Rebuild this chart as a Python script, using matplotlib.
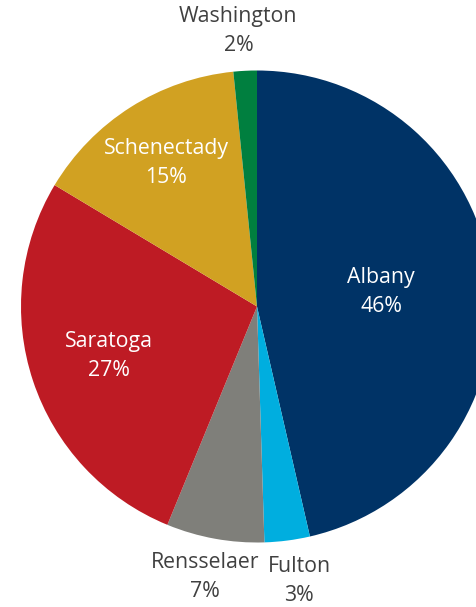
import numpy as np
import matplotlib
matplotlib.use("Agg")
import matplotlib.pyplot as plt

plt.rcParams['font.family'] = ['Open Sans', 'DejaVu Sans']

counties = ["Albany", "Fulton", "Rensselaer", "Saratoga", "Schenectady", "Washington"]
shares = [46.4, 3.1, 6.7, 27.4, 14.8, 1.6]
colors = ["#003366", "#00AEDF", "#7F7F7A", "#BE1B24", "#D1A122", "#007F3F"]
label_radius = [0.53, 1.175, 1.165, 0.66, 0.72, 1.17]
label_shift = [0.0, 1.4, -0.6, 0.0, 0.0, 1.0]  # degrees
label_color = ["white", "#404040", "#404040", "white", "white", "#404040"]

W, H = 477, 607
cx, cy, R = 257, 306.5, 236
fig = plt.figure(figsize=(W / 100, H / 100), dpi=100)
ax = fig.add_axes([0, 0, 1, 1])

wedges, _ = ax.pie(shares, colors=colors, startangle=90, counterclock=False,
                   radius=1.0, wedgeprops=dict(linewidth=0))
total = sum(shares)
for w, name, val, r, s, c in zip(wedges, counties, shares, label_radius, label_shift, label_color):
    ang = np.deg2rad((w.theta1 + w.theta2) / 2 + s)
    x, y = r * np.cos(ang), r * np.sin(ang)
    ax.text(x, y, f"{name}\n{val / total * 100:.0f}%", ha="center", va="center",
            color=c, fontsize=15.3, linespacing=1.5)

ax.set_xlim(-cx / R, (W - cx) / R)
ax.set_ylim(-(H - cy) / R, cy / R)
ax.set_aspect("auto")
ax.axis("off")
fig.savefig("out.png", dpi=100)
